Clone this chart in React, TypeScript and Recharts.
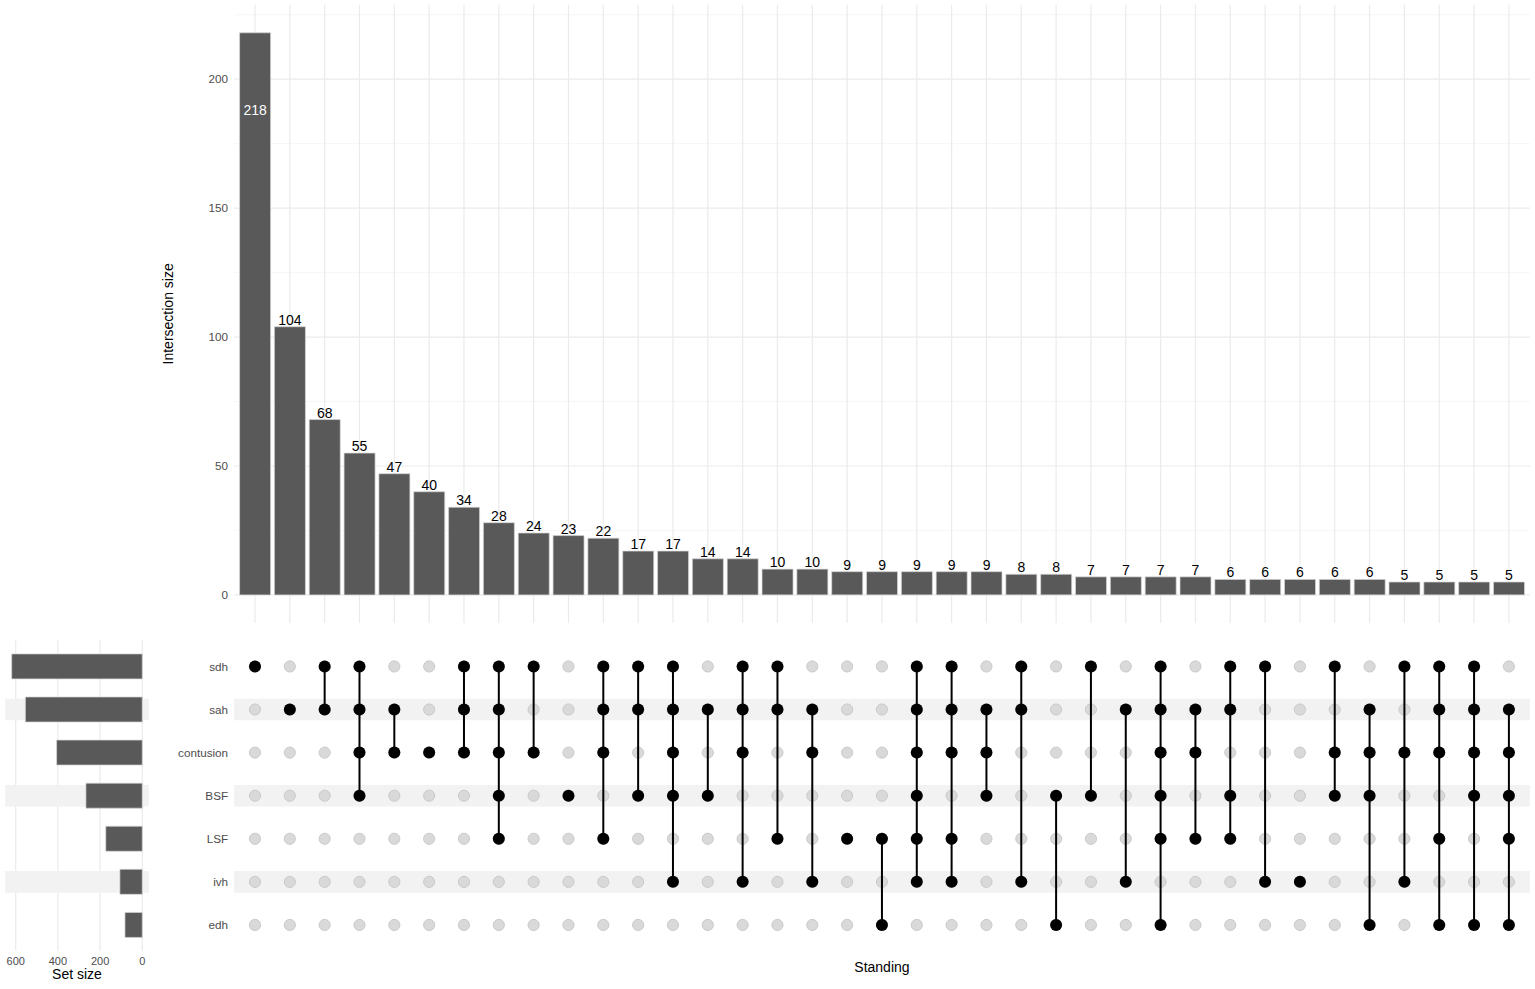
import React from 'react';
import {
  ComposedChart,
  Bar,
  XAxis,
  YAxis,
  CartesianGrid,
  Scatter,
  ReferenceArea,
  LabelList,
  Label,
} from 'recharts';

// ---------- data ----------
const setNames = ['sdh', 'sah', 'contusion', 'BSF', 'LSF', 'ivh', 'edh'];
const setSizes = [619, 554, 406, 267, 173, 106, 82];
const stripedSets = ['sah', 'BSF', 'ivh'];

const intersectionSizes = [
  218, 104, 68, 55, 47, 40, 34, 28, 24, 23, 22, 17, 17, 14, 14, 10, 10, 9, 9, 9, 9, 9, 8, 8, 7, 7, 7, 7, 6, 6, 6,
  6, 6, 5, 5, 5, 5,
];

const intersectionMembers: string[][] = [
  ['sdh'],
  ['sah'],
  ['sdh', 'sah'],
  ['sdh', 'sah', 'contusion', 'BSF'],
  ['sah', 'contusion'],
  ['contusion'],
  ['sdh', 'sah', 'contusion'],
  ['sdh', 'sah', 'contusion', 'BSF', 'LSF'],
  ['sdh', 'contusion'],
  ['BSF'],
  ['sdh', 'sah', 'contusion', 'LSF'],
  ['sdh', 'sah', 'BSF'],
  ['sdh', 'sah', 'contusion', 'BSF', 'ivh'],
  ['sah', 'BSF'],
  ['sdh', 'sah', 'contusion', 'ivh'],
  ['sdh', 'sah', 'LSF'],
  ['sah', 'contusion', 'ivh'],
  ['LSF'],
  ['LSF', 'edh'],
  ['sdh', 'sah', 'contusion', 'BSF', 'LSF', 'ivh'],
  ['sdh', 'sah', 'contusion', 'LSF', 'ivh'],
  ['sah', 'contusion', 'BSF'],
  ['sdh', 'sah', 'ivh'],
  ['BSF', 'edh'],
  ['sdh', 'BSF'],
  ['sah', 'ivh'],
  ['sdh', 'sah', 'contusion', 'BSF', 'LSF', 'edh'],
  ['sah', 'contusion', 'LSF'],
  ['sdh', 'sah', 'BSF', 'LSF'],
  ['sdh', 'ivh'],
  ['ivh'],
  ['sdh', 'contusion', 'BSF'],
  ['sah', 'contusion', 'BSF', 'edh'],
  ['sdh', 'contusion', 'ivh'],
  ['sdh', 'sah', 'contusion', 'LSF', 'edh'],
  ['sdh', 'sah', 'contusion', 'BSF', 'edh'],
  ['sah', 'contusion', 'BSF', 'LSF', 'edh'],
];

const intersectionTicks = [0, 50, 100, 150, 200];
const intersectionMinorTicks = [25, 75, 125, 175, 225];
const setSizeTicks = [0, 200, 400, 600];
const setSizeGrid = [0, 100, 200, 300, 400, 500, 600];

// ---------- derived tables ----------
const nSets = setNames.length;
const nCols = intersectionSizes.length;
const colPositions = intersectionSizes.map((_, i) => i + 1);
// row position: first set at the top
const rowOf = (s: string) => nSets - setNames.indexOf(s);
const rowPositions = setNames.map((s) => rowOf(s));

const topData = intersectionSizes.map((v, i) => ({ x: i + 1, size: v }));
const setData = setNames.map((s, i) => ({ y: rowOf(s), name: s, size: setSizes[i] }));
const grayDots: { x: number; y: number }[] = [];
colPositions.forEach((c) => rowPositions.forEach((r) => grayDots.push({ x: c, y: r })));
const memberSeries = intersectionMembers.map((m, i) =>
  m.map((s) => ({ x: i + 1, y: rowOf(s) })).sort((a, b) => b.y - a.y)
);
const maxSize = Math.max(...intersectionSizes);

// ---------- layout ----------
const W = 1535;
const H = 989;
const FONT = '"Liberation Sans", Arial, Helvetica, sans-serif';
const GRID = '#ebebeb';
const TICK = '#4d4d4d';
const BAR = '#595959';
const STRIPE = '#f2f2f2';

const xDomain: [number, number] = [0.4, nCols + 0.6];
const rowDomain: [number, number] = [0.4, nSets + 0.6];

const plotLeft = 234.1;
const plotRight = 1529.8;
const topPlotTop = 4.7;
const topPlotBottom = 623;
const matTop = 640.6;
const matBottom = 950.8;

const abs: React.CSSProperties = { position: 'absolute', left: 0, top: 0 };

const BarValueLabel = (props: any) => {
  const { x, y, width, value } = props;
  const cx = x + width / 2;
  if (value === maxSize) {
    return (
      <text x={cx} y={y + 82.5} textAnchor="middle" fill="#ffffff" fontSize={14} fontFamily={FONT}>
        {value}
      </text>
    );
  }
  return (
    <text x={cx} y={y - 2} textAnchor="middle" fill="#000000" fontSize={14} fontFamily={FONT}>
      {value}
    </text>
  );
};

const GrayDot = (props: any) => (
  <circle cx={props.cx} cy={props.cy} r={5.6} fill="#d9d9d9" stroke="#c6c6c6" strokeWidth={0.9} />
);
const BlackDot = (props: any) => <circle cx={props.cx} cy={props.cy} r={6} fill="#000000" />;

export default function App() {
  return (
    <div style={{ position: 'absolute', left: 0, top: 0, width: W, height: H, background: '#fff', fontFamily: FONT }}>
      {/* Intersection size bars */}
      <div style={abs}>
        <ComposedChart
          width={W}
          height={H}
          data={topData}
          margin={{ top: topPlotTop, right: W - plotRight, bottom: H - topPlotBottom, left: plotLeft - 70 }}
        >
          <CartesianGrid
            stroke="#f4f4f4"
            strokeWidth={0.8}
            vertical={false}
            horizontalValues={intersectionMinorTicks}
          />
          <CartesianGrid
            stroke={GRID}
            strokeWidth={1.2}
            horizontalValues={intersectionTicks}
            verticalValues={colPositions}
          />
          <XAxis dataKey="x" type="number" domain={xDomain} ticks={colPositions} hide allowDataOverflow />
          <YAxis
            type="number"
            domain={[-10.9, 228.9]}
            ticks={intersectionTicks}
            width={70}
            axisLine={false}
            tickLine={false}
            tickSize={0}
            tickMargin={6}
            tick={{ fill: TICK, fontSize: 11.7, fontFamily: FONT }}
            allowDataOverflow
          >
            <Label
              value="Intersection size"
              position="insideLeft"
              angle={-90}
              offset={4}
              textAnchor="middle"
              style={{ fill: '#000', fontSize: 14, fontFamily: FONT }}
            />
          </YAxis>
          <Bar dataKey="size" barSize={31} fill={BAR} stroke="#d6d6d6" strokeWidth={0.7} isAnimationActive={false}>
            <LabelList dataKey="size" content={BarValueLabel} />
          </Bar>
        </ComposedChart>
      </div>

      {/* Set size bars */}
      <div style={abs}>
        <ComposedChart
          layout="vertical"
          width={W}
          height={H}
          data={setData}
          margin={{ top: matTop, right: W - 148.8, bottom: 0, left: 5.15 }}
        >
          {stripedSets.map((s) => {
            const r = rowOf(s);
            return (
              <ReferenceArea
                key={s}
                x1={-31}
                x2={650}
                y1={r - 0.25}
                y2={r + 0.25}
                fill={STRIPE}
                fillOpacity={1}
                stroke="none"
                ifOverflow="visible"
              />
            );
          })}
          <CartesianGrid stroke={GRID} strokeWidth={1.2} horizontal={false} verticalValues={setSizeGrid} />
          <XAxis
            type="number"
            domain={[-31, 650]}
            reversed
            ticks={setSizeTicks}
            height={H - matBottom}
            axisLine={false}
            tickLine={false}
            tickSize={0}
            tickMargin={6.5}
            tick={{ fill: TICK, fontSize: 11, fontFamily: FONT }}
            allowDataOverflow
          >
            <Label
              value="Set size"
              position="insideTop"
              offset={18}
              style={{ fill: '#000', fontSize: 14, fontFamily: FONT }}
            />
          </XAxis>
          <YAxis type="number" dataKey="y" domain={rowDomain} reversed hide allowDataOverflow />
          <Bar dataKey="size" barSize={25} fill={BAR} stroke="#d6d6d6" strokeWidth={0.7} isAnimationActive={false} />
        </ComposedChart>
      </div>

      {/* Matrix */}
      <div style={abs}>
        <ComposedChart
          width={W}
          height={H}
          margin={{ top: matTop, right: W - plotRight, bottom: 0, left: plotLeft - 70 }}
        >
          {stripedSets.map((s) => {
            const r = rowOf(s);
            return (
              <ReferenceArea
                key={s}
                x1={xDomain[0]}
                x2={xDomain[1]}
                y1={r - 0.25}
                y2={r + 0.25}
                fill={STRIPE}
                fillOpacity={1}
                stroke="none"
              />
            );
          })}
          <CartesianGrid stroke={GRID} strokeWidth={1.2} horizontal={false} verticalValues={colPositions} />
          <XAxis
            dataKey="x"
            type="number"
            domain={xDomain}
            ticks={colPositions}
            height={H - matBottom}
            tick={false}
            axisLine={false}
            tickLine={false}
            allowDataOverflow
          >
            <Label
              value="Standing"
              position="insideTop"
              offset={11}
              style={{ fill: '#000', fontSize: 14, fontFamily: FONT }}
            />
          </XAxis>
          <YAxis
            dataKey="y"
            type="number"
            domain={rowDomain}
            ticks={rowPositions}
            tickFormatter={(v: number) => setNames[nSets - v] ?? ''}
            width={70}
            axisLine={false}
            tickLine={false}
            tickSize={0}
            tickMargin={6}
            tick={{ fill: TICK, fontSize: 11.7, fontFamily: FONT }}
            allowDataOverflow
          />
          <Scatter data={grayDots} shape={GrayDot} isAnimationActive={false} />
          {memberSeries.map((series, i) => (
            <Scatter
              key={i}
              data={series}
              shape={BlackDot}
              line={{ stroke: '#000000', strokeWidth: 2 }}
              isAnimationActive={false}
            />
          ))}
        </ComposedChart>
      </div>
    </div>
  );
}
